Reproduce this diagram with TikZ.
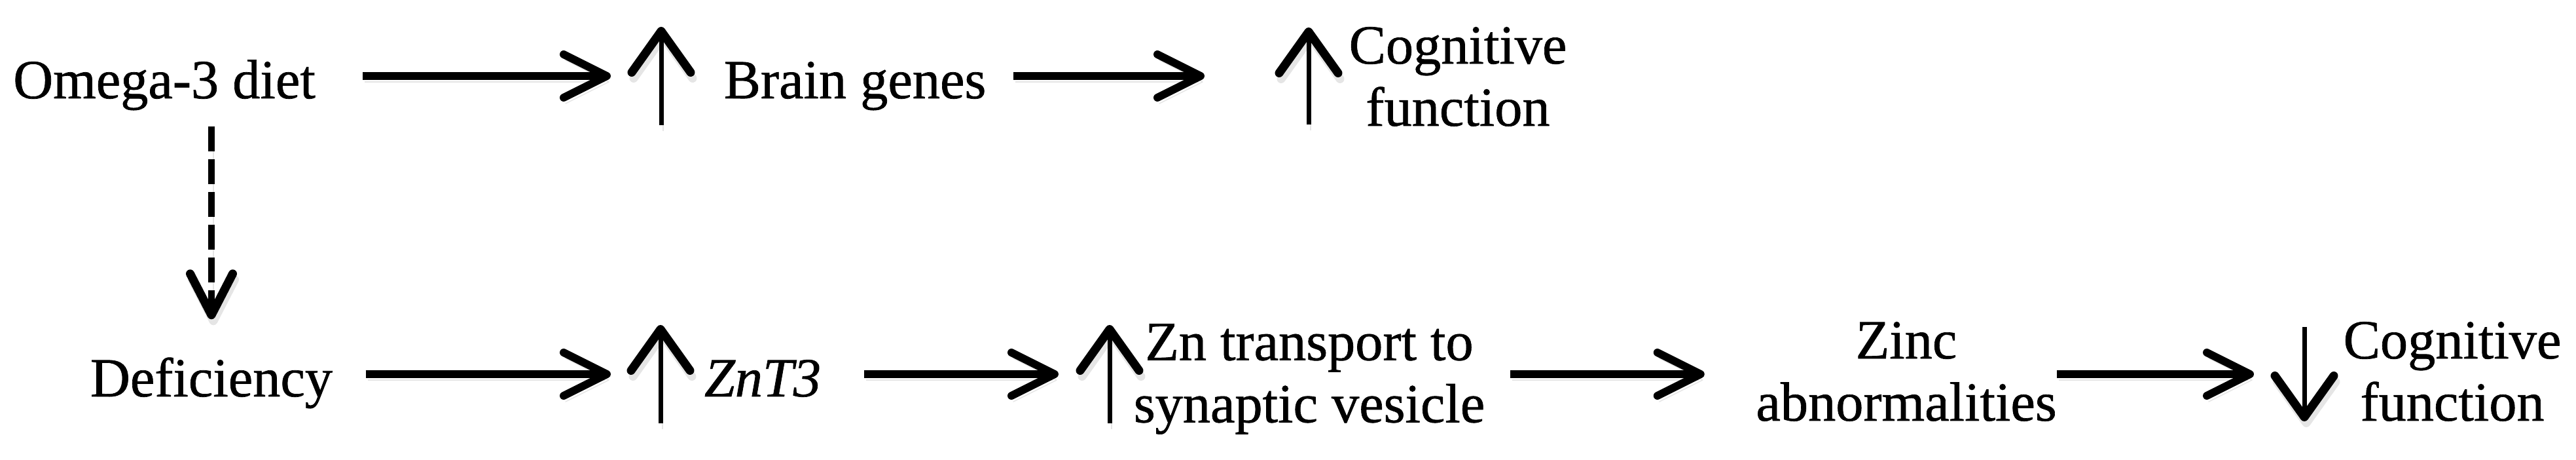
\documentclass[tikz,border=0pt]{standalone}
\usepackage{fontspec}
\setmainfont{Liberation Serif}[FakeBold=0.8]
\usetikzlibrary{arrows.meta}

\begin{document}
\begin{tikzpicture}[
      every node/.style={font=\fontsize{24}{27}\selectfont, inner sep=0pt},
      term/.style={text height=8.8mm, text depth=2mm},
      duo/.style={align=center},
      shade/.style={preaction={draw=black!10, transform canvas={xshift=0.3mm, yshift=-0.9mm}}},
      arrow/.style={shade, line width=1.2mm, -{Straight Barb[length=6.6mm, width=6.6mm, round]}},
      dasharrow/.style={shade, line width=1mm, dash pattern=on 3.8mm off 1.2mm, -{Straight Barb[length=6.3mm, width=6.5mm, line width=0.3mm 1, round]}},
      updown/.style={shade, line width=0.7mm, -{Straight Barb[length=6.3mm, width=9mm, line width=0.6mm 1, round]}}
  ]
    \useasboundingbox (0,0) rectangle (39.35,7.02);
    % top row
    \node[term] (omega) at (2.51,5.86) {Omega-3 diet};
    \node[term] (brain) at (13.06,5.86) {Brain genes};
    \node[duo] (cogup) at (22.27,5.85) {Cognitive\\function};
    % bottom row
    \node[term] (deficiency) at (3.23,1.31) {Deficiency};
    \node[term] (znt) at (11.65,1.31) {\textit{ZnT3}};
    \node[duo] (transport) at (20.00,1.235) {Zn transport to\\synaptic vesicle};
    \node[duo] (zinc) at (29.12,1.35) {Zinc\\abnormalities};
    \node[duo] (cogdown) at (37.46,1.35) {Cognitive\\function};
    % up / down markers
    \coordinate (upbrain) at (10.10,5.86);
    \coordinate (upcog) at (19.99,5.86);
    \coordinate (upznt) at (10.09,1.31);
    \coordinate (uptrans) at (16.95,1.31);
    \coordinate (downcog) at (35.20,1.31);
    \draw[updown] ([yshift=-7.5mm]upbrain) -- ([yshift=7.5mm]upbrain);
    \draw[updown] ([yshift=-7.4mm]upcog) -- ([yshift=7.4mm]upcog);
    \draw[updown] ([yshift=-7.5mm]upznt) -- ([yshift=7.5mm]upznt);
    \draw[updown] ([yshift=-7.5mm]uptrans) -- ([yshift=7.5mm]uptrans);
    \draw[updown] ([yshift=7.2mm]downcog) -- ([yshift=-7.2mm]downcog);
    % links
    \draw[arrow, shorten <=7.2mm, shorten >=7.7mm] (omega.east) -- (upbrain);
    \draw[arrow, shorten <=4.1mm, shorten >=15.9mm] (brain.east) -- (upcog);
    \draw[arrow, shorten <=5mm, shorten >=7.6mm] (deficiency.east) -- (upznt);
    \draw[arrow, shorten <=6.5mm, shorten >=7.8mm] (znt.east) -- (uptrans);
    \draw[arrow, shorten <=3.8mm, shorten >=7.8mm] (transport.east |- downcog) -- (zinc.west |- downcog);
    \draw[arrow, shorten >=7.7mm] (zinc.east |- downcog) -- (downcog);
    \draw[dasharrow, shorten <=2.2mm, shorten >=2.9mm] (omega.south -| deficiency.north) -- (deficiency.north);
  \end{tikzpicture}
\end{document}
